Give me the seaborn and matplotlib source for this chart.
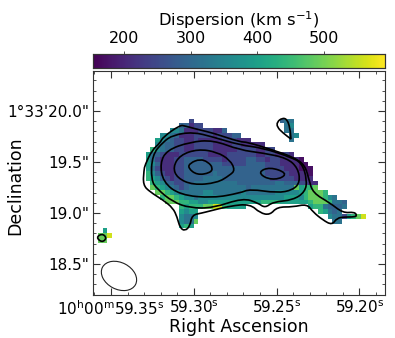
import matplotlib
matplotlib.use('Agg')
import matplotlib.pyplot as plt
from matplotlib.patches import Ellipse, PathPatch
from matplotlib.path import Path
import numpy as np
import pandas as pd
import seaborn as sns

# levels of the dispersion map (km/s), one per digit in the rows below
levels = [170, 210, 250, 290, 320, 360, 400, 440, 490, 560]

# (row, first column, digits)
map_rows = [
    (10, 39, "344"),
    (10, 20, "2"),
    (11, 18, "33122"),
    (11, 40, "45"),
    (12, 16, "554111222113"),
    (12, 40, "44"),
    (13, 14, "55431112222122233"),
    (13, 41, "45"),
    (14, 13, "65432211211111222111"),
    (14, 41, "4"),
    (15, 13, "54332211222211112211111"),
    (16, 12, "75433221122221111122221122"),
    (17, 11, "6432111222222111122222211221121"),
    (18, 11, "642111223333222212222332212211110"),
    (19, 11, "6531112233333333222223333222111100"),
    (20, 11, "64211122333333333333333332222111000"),
    (21, 11, "75321122333333433333333332222211110"),
    (22, 11, "76532122333344443333333333222221111"),
    (23, 12, "76533223344444444433333333443332211"),
    (24, 12, "87654323444444444444344444444486778"),
    (25, 13, "887654444455444444544444455555678887"),
    (26, 14, "7887655455555555555555555566657888754"),
    (27, 15, "88877665566666666666777766666678887443"),
    (28, 18, "76777889976666"),
    (28, 45, "67743334"),
    (29, 18, "6566"),
    (29, 47, "76434"),
    (30, 18, "5445"),
    (30, 49, "5442"),
    (30, 53, "6789"),
    (31, 18, "5448"),
    (31, 50, "44"),
    (32, 18, "676"),
    (33, 2, "6"),
    (34, 1, "889"),
    (35, 1, "88"),
]

# contours: right ascension (s after 10h00m) and declination (" after 1d33')
c1_ra = [59.3083, 59.3053, 59.2962, 59.2884, 59.2721, 59.2679, 59.2522, 59.2401, 59.2328, 59.2304, 59.2280, 59.2177, 59.2099, 59.2030, 59.2014, 59.2030, 59.2087, 59.2135, 59.2165, 59.2220, 59.2280, 59.2316, 59.2401, 59.2497, 59.2540, 59.2600, 59.2660, 59.2781, 59.2902, 59.2950, 59.3011, 59.3023, 59.3053, 59.3083, 59.3101, 59.3126, 59.3186, 59.3264, 59.3307, 59.3301, 59.3295, 59.3252, 59.3204, 59.3186]
c1_dec = [19.862, 19.853, 19.813, 19.784, 19.696, 19.696, 19.617, 19.549, 19.470, 19.323, 19.196, 19.098, 19.000, 19.010, 18.975, 18.961, 18.961, 18.951, 18.882, 18.931, 19.010, 19.088, 19.059, 19.059, 18.980, 19.000, 19.088, 19.069, 19.020, 19.000, 18.980, 18.873, 18.824, 18.853, 18.961, 19.049, 19.127, 19.206, 19.274, 19.421, 19.470, 19.617, 19.686, 19.745]
c2_ra = [59.3186, 59.3126, 59.3005, 59.2884, 59.2721, 59.2582, 59.2419, 59.2346, 59.2316, 59.2328, 59.2401, 59.2522, 59.2570, 59.2612, 59.2703, 59.2884, 59.3023, 59.3126, 59.3222, 59.3258, 59.3252]
c2_dec = [19.696, 19.764, 19.794, 19.745, 19.666, 19.637, 19.549, 19.490, 19.323, 19.206, 19.127, 19.108, 19.049, 19.098, 19.147, 19.049, 19.049, 19.108, 19.235, 19.323, 19.568]
c3_ra = [59.3162, 59.3023, 59.2884, 59.2721, 59.2582, 59.2437, 59.2371, 59.2358, 59.2401, 59.2497, 59.2660, 59.2721, 59.2884, 59.3083, 59.3186, 59.3204]
c3_dec = [19.617, 19.696, 19.715, 19.617, 19.588, 19.539, 19.441, 19.304, 19.225, 19.196, 19.235, 19.196, 19.147, 19.176, 19.304, 19.490]
c4_ra = [59.2975, 59.3083, 59.3126, 59.3101, 59.3005, 59.2860, 59.2781, 59.2751, 59.2781, 59.2860]
c4_dec = [19.627, 19.568, 19.451, 19.343, 19.274, 19.294, 19.372, 19.421, 19.519, 19.598]
c5_ra = [59.2962, 59.3023, 59.3035, 59.2981, 59.2902, 59.2884, 59.2914]
c5_dec = [19.529, 19.490, 19.441, 19.372, 19.392, 19.441, 19.500]
c6_ra = [59.2612, 59.2540, 59.2437, 59.2479, 59.2558]
c6_dec = [19.402, 19.451, 19.392, 19.333, 19.333]
c7_ra = [59.2497, 59.2467, 59.2437, 59.2419, 59.2413, 59.2413, 59.2461, 59.2497]
c7_dec = [19.892, 19.931, 19.921, 19.833, 19.725, 19.725, 19.784, 19.843]
c8_ra = [59.3590, 59.3554, 59.3525, 59.3554]
c8_dec = [18.760, 18.800, 18.755, 18.710]

ra_ticks = [59.35, 59.30, 59.25, 59.20]
ra_labels = [r'10$^{\mathrm{h}}$00$^{\mathrm{m}}$59.35$^{\mathrm{s}}$', r'59.30$^{\mathrm{s}}$', r'59.25$^{\mathrm{s}}$', r'59.20$^{\mathrm{s}}$']
dec_ticks = [20.0, 19.5, 19.0, 18.5]
dec_labels = ['1\u00b033\'20.0"', '19.5"', '19.0"', '18.5"']
cbar_ticks = [200, 300, 400, 500]

# axes limits
RA_LEFT, RA_RIGHT = 59.3609, 59.1845
DEC_TOP, DEC_BOTTOM = 20.392, 18.196
N_ROWS, N_COLS = 47, 61


def ra_to_col(ra):
    return (RA_LEFT - np.asarray(ra)) / (RA_LEFT - RA_RIGHT) * N_COLS


def dec_to_row(dec):
    return (DEC_TOP - np.asarray(dec)) / (DEC_TOP - DEC_BOTTOM) * N_ROWS


def contour_patch(ra, dec):
    """Closed curve that rounds the corners between the read-off vertices"""
    pts = np.column_stack([ra_to_col(ra), dec_to_row(dec)])
    mids = (pts + np.roll(pts, -1, axis=0)) / 2
    verts = [mids[-1]]
    codes = [Path.MOVETO]
    for p, m in zip(pts, mids):
        verts += [p, m]
        codes += [Path.CURVE3, Path.CURVE3]
    return PathPatch(Path(verts, codes), fill=False, edgecolor='black', lw=1.2)


def main():
    sns.set_style('white')
    plt.rcParams['font.family'] = ['DejaVu Sans']
    plt.rcParams['mathtext.default'] = 'regular'
    plt.rcParams['text.color'] = 'black'
    plt.rcParams['axes.labelcolor'] = 'black'
    plt.rcParams['xtick.labelcolor'] = 'black'
    plt.rcParams['ytick.labelcolor'] = 'black'

    grid = np.full((N_ROWS, N_COLS), np.nan)
    for row, col, digits in map_rows:
        for i, d in enumerate(digits):
            grid[row, col + i] = levels[int(d)]
    df = pd.DataFrame(grid)

    fig = plt.figure(figsize=(3.95, 3.38), dpi=100)
    ax = fig.add_axes([93 / 395, 43 / 338, 292 / 395, 224 / 338])
    cax = fig.add_axes([93 / 395, 270 / 338, 292 / 395, 14 / 338])

    sns.heatmap(df, ax=ax, cbar_ax=cax, cmap='viridis', vmin=152.6, vmax=592,
                xticklabels=False, yticklabels=False,
                cbar_kws={'orientation': 'horizontal'})

    for xs, ys in [(c1_ra, c1_dec), (c2_ra, c2_dec), (c3_ra, c3_dec), (c4_ra, c4_dec),
                   (c5_ra, c5_dec), (c6_ra, c6_dec), (c7_ra, c7_dec), (c8_ra, c8_dec)]:
        ax.add_patch(contour_patch(xs, ys))

    # beam
    ax.add_patch(Ellipse((ra_to_col(59.3452), dec_to_row(18.383)), 7.8, 5.6, angle=28,
                         fill=False, edgecolor='#222222', lw=0.8))

    ax.set_xticks(ra_to_col(ra_ticks))
    ax.set_xticklabels(ra_labels)
    ax.set_yticks(dec_to_row(dec_ticks))
    ax.set_yticklabels(dec_labels, rotation=0)
    ax.set_xticks(ra_to_col(np.arange(59.19, 59.36, 0.01)), minor=True)
    ax.set_yticks(dec_to_row(np.arange(18.2, 20.4, 0.1)), minor=True)
    ax.tick_params(which='major', direction='in', length=5, width=0.8, top=True, right=True,
                   bottom=True, left=True, labelsize=11, pad=3, color='#333333')
    ax.tick_params(which='minor', direction='in', length=2.5, width=0.6, top=True, right=True,
                   bottom=True, left=True, color='#333333')
    for s in ax.spines.values():
        s.set_visible(True)
        s.set_linewidth(0.8)
        s.set_color('#333333')
    ax.set_xlabel('Right Ascension', fontsize=12.5, labelpad=0)
    ax.set_ylabel('Declination', fontsize=12.5)
    ax.yaxis.set_label_coords(-0.235, 0.49)

    cax.xaxis.set_ticks_position('top')
    cax.xaxis.set_label_position('top')
    cax.set_xticks(cbar_ticks)
    cax.tick_params(axis='x', direction='out', length=2.5, width=0.6, labelsize=11.5, pad=3,
                    top=True, bottom=False, color='#333333')
    cax.set_xlabel(r'Dispersion (km s$^{-1}$)', fontsize=11.8, labelpad=4)
    for s in cax.spines.values():
        s.set_visible(True)
        s.set_linewidth(0.8)
        s.set_color('#333333')

    fig.savefig('out.png', dpi=100)
    plt.close()


if __name__ == '__main__':
    main()
